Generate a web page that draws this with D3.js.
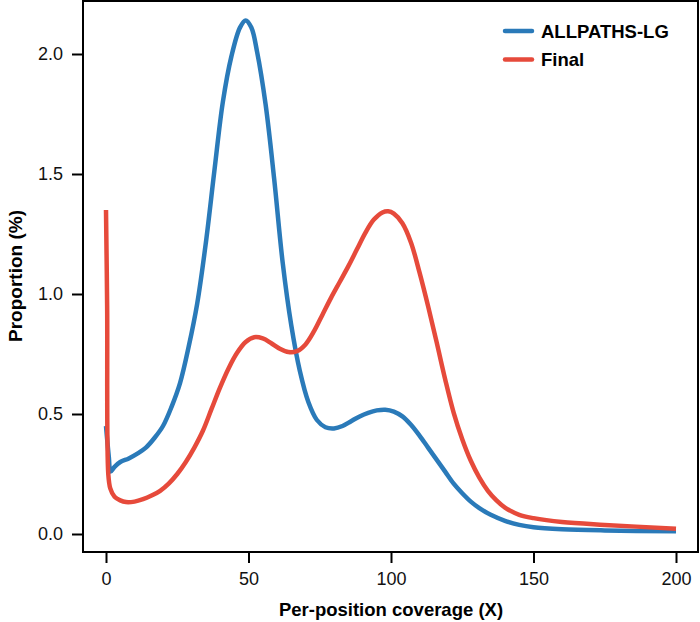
<html>
<head>
  <script src="https://d3js.org/d3.v7.min.js"></script>
  <style>
    body { margin: 0; background: #fff; }
    text { font-family: "Liberation Sans", Arial, sans-serif; }
  </style>
</head>
<body>
<script>

// coverage (X) and proportion (%)
coverage = [0, 1, 1.6, 3, 5, 8, 11, 14, 17, 20, 23, 26, 29, 32, 35, 38, 41, 44, 47, 49, 51, 53, 56, 59, 62, 65, 68, 71, 74, 77, 80, 83, 86, 89, 92, 95, 98, 101, 104, 107, 110, 113, 116, 119, 122, 125, 128, 131, 135, 140, 145, 150, 160, 175, 200];
allpaths = [0.45, 0.32, 0.26, 0.28, 0.30, 0.315, 0.335, 0.36, 0.40, 0.45, 0.53, 0.63, 0.78, 0.96, 1.21, 1.51, 1.80, 1.99, 2.11, 2.14, 2.11, 2.01, 1.79, 1.48, 1.13, 0.87, 0.68, 0.55, 0.475, 0.445, 0.44, 0.45, 0.47, 0.49, 0.505, 0.515, 0.518, 0.51, 0.49, 0.455, 0.41, 0.36, 0.31, 0.26, 0.21, 0.17, 0.135, 0.108, 0.08, 0.055, 0.038, 0.028, 0.020, 0.015, 0.011];

coverageFinal = [0, 0.4, 0.8, 1.5, 3, 5, 7, 10, 13, 16, 19, 22, 25, 28, 31, 34, 37, 40, 43, 46, 49, 52, 55, 58, 61, 64, 67, 70, 73, 76, 79, 82, 85, 88, 91, 94, 97, 99, 101, 104, 107, 110, 113, 116, 119, 122, 125, 128, 131, 134, 137, 140, 145, 150, 160, 175, 200];
final = [1.35, 0.95, 0.25, 0.19, 0.155, 0.14, 0.133, 0.135, 0.145, 0.16, 0.18, 0.21, 0.25, 0.30, 0.36, 0.43, 0.52, 0.61, 0.69, 0.755, 0.80, 0.82, 0.815, 0.795, 0.772, 0.758, 0.762, 0.79, 0.845, 0.915, 0.985, 1.05, 1.115, 1.185, 1.255, 1.31, 1.34, 1.345, 1.335, 1.295, 1.215, 1.09, 0.95, 0.80, 0.645, 0.505, 0.395, 0.305, 0.235, 0.18, 0.14, 0.11, 0.08, 0.066, 0.05, 0.038, 0.022];

xTicks = [0, 50, 100, 150, 200];
yTicks = [0, 0.5, 1.0, 1.5, 2.0];
seriesNames = ["ALLPATHS-LG", "Final"];
colors = ["#2a7ab9", "#e64a3b"];

w = 700;
h = 622;

svg = d3.select("body").append("svg")
  .attr("width", w)
  .attr("height", h)

x = d3.scaleLinear().domain([0, 200]).range([106, 676]);
y = d3.scaleLinear().domain([0, 2]).range([534, 54]);

// frame
svg.append("rect")
  .attr("x", 83)
  .attr("y", 1)
  .attr("width", 615)
  .attr("height", 551)
  .attr("fill", "none")
  .attr("stroke", "#000")
  .attr("stroke-width", 2)

xAxis = svg.append("g")
  .attr("transform", "translate(0,552)")
  .call(d3.axisBottom(x).tickValues(xTicks).tickSize(11).tickPadding(9).tickFormat(d3.format("d")))
xAxis.select(".domain").remove()

yAxis = svg.append("g")
  .attr("transform", "translate(83,0)")
  .call(d3.axisLeft(y).tickValues(yTicks).tickSize(11).tickPadding(9).tickFormat(d3.format(".1f")))
yAxis.select(".domain").remove()

svg.selectAll(".tick line").attr("stroke", "#000").attr("stroke-width", 2)
svg.selectAll(".tick text")
  .attr("font-family", "Liberation Sans, Arial, sans-serif")
  .attr("font-size", 18)
  .attr("fill", "#111")

// axis titles
svg.append("text")
  .attr("x", 391)
  .attr("y", 616)
  .attr("text-anchor", "middle")
  .attr("font-size", 18.5)
  .attr("font-weight", "bold")
  .text("Per-position coverage (X)")

svg.append("text")
  .attr("transform", "translate(22,276) rotate(-90)")
  .attr("text-anchor", "middle")
  .attr("font-size", 19)
  .attr("font-weight", "bold")
  .text("Proportion (%)")

line = d3.line()
  .x(d => x(d[0]))
  .y(d => y(d[1]))
  .curve(d3.curveCatmullRom.alpha(0.5))

blueData = coverage.map((c, i) => [c, allpaths[i]])
redData = coverageFinal.map((c, i) => [c, final[i]])

svg.append("path")
  .datum(blueData)
  .attr("d", line)
  .attr("fill", "none")
  .attr("stroke", colors[0])
  .attr("stroke-width", 4.5)
  .attr("stroke-linejoin", "round")

svg.append("path")
  .datum(redData)
  .attr("d", line)
  .attr("fill", "none")
  .attr("stroke", colors[1])
  .attr("stroke-width", 4.5)
  .attr("stroke-linejoin", "round")

// legend
legend = svg.selectAll(".legend")
  .data(seriesNames)
  .enter()
  .append("g")
  .attr("class", "legend")
  .attr("transform", (d, i) => "translate(0," + (31 + i * 28.5) + ")")

legend.append("line")
  .attr("x1", 505)
  .attr("x2", 532)
  .attr("stroke", (d, i) => colors[i])
  .attr("stroke-width", 4.5)
  .attr("stroke-linecap", "round")

legend.append("text")
  .attr("x", 541)
  .attr("y", 6.5)
  .attr("font-size", 18.5)
  .attr("font-weight", "bold")
  .text(d => d)

</script>
</body>
</html>
